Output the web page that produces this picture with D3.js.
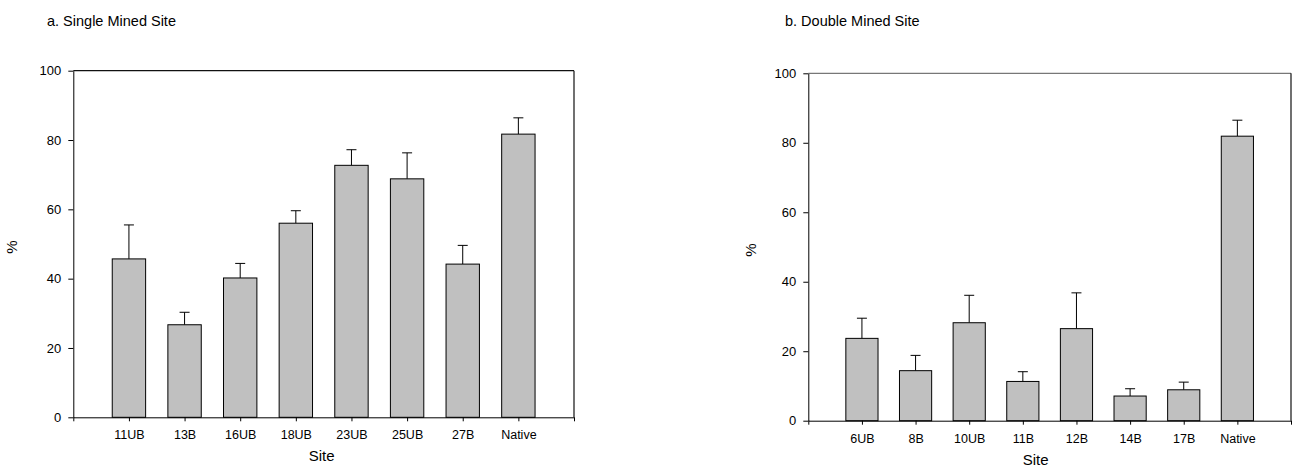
<!DOCTYPE html>
<html>
<head>
<meta charset="utf-8">
<script src="https://cdnjs.cloudflare.com/ajax/libs/d3/7.8.5/d3.min.js"></script>
<style>
  body { margin: 0; background: #fff; }
  svg { display: block; font-family: "Liberation Sans", Arial, sans-serif; }
</style>
</head>
<body>
<div id="chart"></div>
<script>
// single mined site
var singleSites = ["11UB", "13B", "16UB", "18UB", "23UB", "25UB", "27B", "Native"];
var singleValues = [45.7, 26.7, 40.2, 56.0, 72.7, 68.8, 44.2, 81.7];
var singleErrors = [9.8, 3.6, 4.2, 3.6, 4.5, 7.5, 5.4, 4.7];

// double mined site
var doubleSites = ["6UB", "8B", "10UB", "11B", "12B", "14B", "17B", "Native"];
var doubleValues = [23.7, 14.4, 28.2, 11.3, 26.5, 7.1, 8.9, 81.9];
var doubleErrors = [5.8, 4.4, 7.9, 2.8, 10.3, 2.1, 2.2, 4.6];

var yTicks = [0, 20, 40, 60, 80, 100];

var svg = d3.select("#chart").append("svg")
    .attr("width", 1292).attr("height", 469);

function drawPanel(opts) {
  var w = opts.right - opts.left, h = opts.bottom - opts.top;
  var g = svg.append("g").attr("transform", "translate(" + opts.left + "," + opts.top + ")");

  var x = d3.scaleLinear().domain([0, opts.sites.length + 1]).range([0, w]);
  var y = d3.scaleLinear().domain([0, 100]).range([h, 0]);
  var slot = x(1) - x(0);
  var bw = slot * 0.6;

  var data = opts.sites.map(function(s, i) {
    return {site: s, pos: i + 1, value: opts.values[i], err: opts.errors[i]};
  });

  // frame top and right
  g.append("line").attr("x1", 0).attr("x2", w).attr("y1", 0).attr("y2", 0)
      .style("stroke", opts.frame).style("stroke-width", 1.2);
  g.append("line").attr("x1", w).attr("x2", w).attr("y1", 0).attr("y2", h)
      .style("stroke", "#111").style("stroke-width", 1.2);

  // error bars
  var eb = g.append("g").selectAll("g").data(data).enter().append("g");
  eb.append("line")
      .attr("x1", function(d) { return x(d.pos); })
      .attr("x2", function(d) { return x(d.pos); })
      .attr("y1", function(d) { return y(d.value); })
      .attr("y2", function(d) { return y(d.value + d.err); })
      .style("stroke", "#000").style("stroke-width", 1);
  eb.append("line")
      .attr("x1", function(d) { return x(d.pos) - 5; })
      .attr("x2", function(d) { return x(d.pos) + 5; })
      .attr("y1", function(d) { return y(d.value + d.err); })
      .attr("y2", function(d) { return y(d.value + d.err); })
      .style("stroke", "#000").style("stroke-width", 1);

  g.append("g").selectAll("rect").data(data).enter().append("rect")
      .attr("x", function(d) { return x(d.pos) - bw / 2; })
      .attr("width", bw)
      .attr("y", function(d) { return y(d.value); })
      .attr("height", function(d) { return h - y(d.value); })
      .style("fill", "#c0c0c0")
      .style("stroke", "#000")
      .style("stroke-width", 1);

  var yAxis = g.append("g")
      .call(d3.axisLeft(y).tickValues(yTicks).tickSize(5).tickPadding(7).tickSizeOuter(0));
  yAxis.selectAll("text").style("font-size", "13px").style("fill", "#000");
  yAxis.selectAll("line, path").style("stroke", "#000");

  var xTickVals = d3.range(0, opts.sites.length + 2);
  var xAxis = g.append("g").attr("transform", "translate(0," + h + ")")
      .call(d3.axisBottom(x).tickValues(xTickVals).tickSize(4).tickPadding(9).tickSizeOuter(0)
        .tickFormat(function(v) { return (v >= 1 && v <= opts.sites.length) ? opts.sites[v - 1] : ""; }));
  xAxis.selectAll("text").style("font-size", "12.5px").style("fill", "#000");
  xAxis.selectAll("line, path").style("stroke", "#000");

  g.append("text")
      .attr("x", w / 2 + opts.siteShift)
      .attr("y", h + 44)
      .attr("text-anchor", "middle")
      .style("font-size", "15px")
      .text("Site");

  g.append("text")
      .attr("transform", "translate(" + opts.yLabelX + "," + (h / 2 + 3) + ") rotate(-90)")
      .attr("text-anchor", "middle")
      .style("font-size", "15px")
      .text("%");

  svg.append("text")
      .attr("x", opts.titleX)
      .attr("y", 26)
      .style("font-size", "14.5px")
      .text(opts.title);
}

drawPanel({
  title: "a. Single Mined Site", titleX: 47,
  sites: singleSites, values: singleValues, errors: singleErrors,
  left: 73.3, right: 574, top: 70.7, bottom: 417.3,
  frame: "#111", siteShift: -2, yLabelX: -56
});

drawPanel({
  title: "b. Double Mined Site", titleX: 785,
  sites: doubleSites, values: doubleValues, errors: doubleErrors,
  left: 808.3, right: 1291, top: 73.3, bottom: 420.7,
  frame: "#777", siteShift: -14, yLabelX: -52
});
</script>
</body>
</html>
